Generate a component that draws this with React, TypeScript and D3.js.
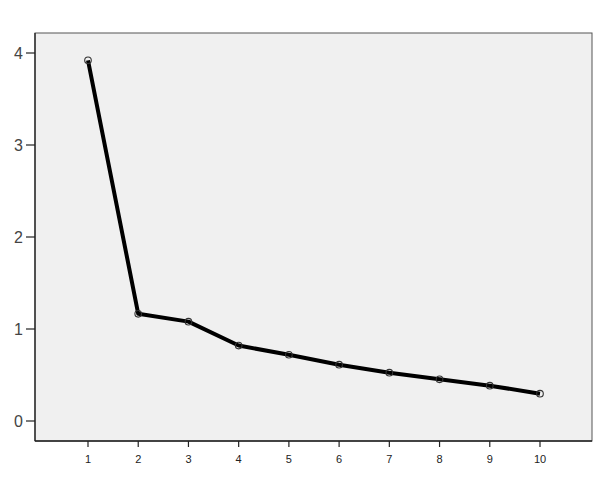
import React from "react";
import * as d3 from "d3";

const components = [1, 2, 3, 4, 5, 6, 7, 8, 9, 10];
const eigenvalues = [3.92, 1.165, 1.08, 0.82, 0.72, 0.612, 0.525, 0.453, 0.384, 0.297];
const yTicks = [0, 1, 2, 3, 4];

export default function App() {
  const W = 600, H = 486;
  const left = 35, right = 592, top = 33, bottom = 441;
  const x = d3.scaleLinear().domain([1, 10]).range([88, 540]);
  const y = d3.scaleLinear().domain([0, 4]).range([421, 53]);
  const line = d3.line<number>().x((_, i) => x(components[i])).y((d) => y(d));
  const font = "'Liberation Sans', Arial, sans-serif";
  return (
    <svg width={W} height={H} style={{ position: "absolute", left: 0, top: 0, background: "#fff" }}>
      <rect x={left} y={top} width={right - left} height={bottom - top} fill="#f0f0f0" stroke="#555" strokeWidth={1} />
      <line x1={left} y1={top} x2={left} y2={bottom} stroke="#222" strokeWidth={1.3} />
      <line x1={left} y1={bottom} x2={right} y2={bottom} stroke="#222" strokeWidth={1.3} />
      {yTicks.map((t) => (
        <g key={t}>
          <line x1={left - 9} x2={left} y1={y(t)} y2={y(t)} stroke="#222" strokeWidth={1.2} />
          <text x={left - 12} y={y(t)} dy="0.36em" textAnchor="end" fontFamily={font} fontSize={16} fill="#444">{t}</text>
        </g>
      ))}
      {components.map((c) => (
        <g key={c}>
          <line x1={x(c)} x2={x(c)} y1={bottom} y2={bottom + 6} stroke="#222" strokeWidth={1.2} />
          <text x={x(c)} y={bottom + 22} textAnchor="middle" fontFamily={font} fontSize={11} fill="#222">{c}</text>
        </g>
      ))}
      <path d={line(eigenvalues) || ""} fill="none" stroke="#000" strokeWidth={4} strokeLinejoin="round" />
      {eigenvalues.map((v, i) => (
        <circle key={i} cx={x(components[i])} cy={y(v)} r={3.3} fill="none" stroke="#333" strokeWidth={1.1} />
      ))}
    </svg>
  );
}
